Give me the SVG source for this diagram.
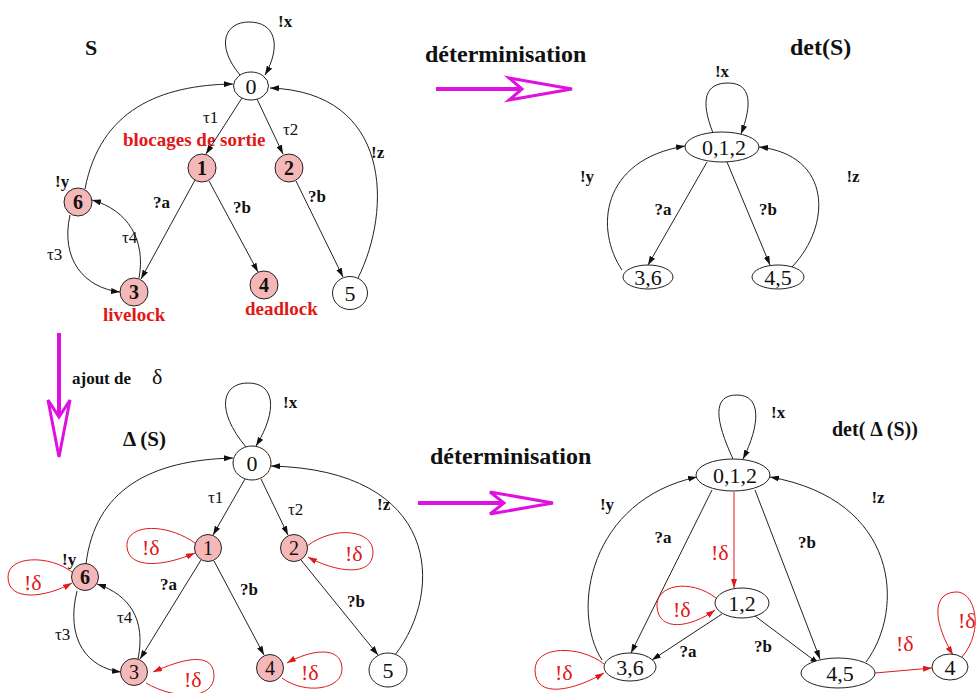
<svg xmlns="http://www.w3.org/2000/svg" width="976" height="693" viewBox="0 0 976 693">
<style>
text{font-family:"Liberation Serif","Times New Roman",serif}
.e{fill:none;stroke:#222;stroke-width:1}
.r{fill:none;stroke:#e01818;stroke-width:1}
.n{fill:#fff;stroke:#222;stroke-width:1}
.p{fill:#f5b8b8;stroke:#222;stroke-width:1}
.t{fill:#111}
.b{font-weight:bold}
.lb{font-weight:bold;font-size:17px;fill:#111}
.tau{font-size:17px;fill:#111}
.nl{font-size:22px;fill:#111;text-anchor:middle}
.pl{font-size:20px;fill:#111;text-anchor:middle}
.rd{font-size:22px;fill:#e01818}
.rb{font-weight:bold;font-size:19px;fill:#e01818}
.h{font-weight:bold;fill:#111}
.m{stroke:#e010e0;stroke-width:4;fill:none}
.mh{stroke:#e010e0;stroke-width:3;fill:#fff;stroke-linejoin:miter}
.c{text-anchor:middle}
</style>
<defs>
<marker id="a" markerUnits="userSpaceOnUse" markerWidth="9" markerHeight="6" refX="9" refY="3" orient="auto"><path d="M0,0 L9,3 L0,6 z" fill="#111"/></marker>
<marker id="ar" markerUnits="userSpaceOnUse" markerWidth="9" markerHeight="6" refX="9" refY="3" orient="auto"><path d="M0,0 L9,3 L0,6 z" fill="#e01818"/></marker>
</defs>
<rect width="976" height="693" fill="#fff"/>

<g id="titles">
<text class="h" x="85" y="55" font-size="22">S</text>
<text class="h" x="425" y="62" font-size="24">déterminisation</text>
<text class="h" x="790" y="55" font-size="24">det(S)</text>
<text class="h" x="72" y="384" font-size="17">ajout de</text>
<text class="t" x="152" y="384" font-size="22">δ</text>
<text class="h" x="123" y="446" font-size="21">Δ (S)</text>
<text class="h" x="430" y="464" font-size="24">déterminisation</text>
<text class="h" x="832" y="436" font-size="20">det( Δ (S))</text>
<text class="rb" x="123" y="146">blocages de sortie</text>
<text class="rb" x="103" y="321">livelock</text>
<text class="rb" x="245" y="315">deadlock</text>
</g>
<g id="transform-arrows">
<line class="m" x1="436" y1="89" x2="522" y2="89"/>
<polygon class="mh" points="509,78 572,89 509,100 522,89"/>
<line class="m" x1="59" y1="333" x2="59" y2="417"/>
<polygon class="mh" points="48,400 59,457 70,400 59,417"/>
<line class="m" x1="418" y1="503" x2="504" y2="503"/>
<polygon class="mh" points="490,492 553,503 490,514 504,503"/>
</g>

<g id="connectors">
<path class="e" marker-end="url(#a)" d="M240,75 C215,45 225,22 249,22 C275,22 282,45 265,75"/>
<path class="e" marker-end="url(#a)" d="M242,98 L206,154"/>
<path class="e" marker-end="url(#a)" d="M257,99 L283,154"/>
<path class="e" marker-end="url(#a)" d="M85,189 C100,110 160,85 233,84"/>
<path class="e" marker-end="url(#a)" d="M358,278 C392,210 392,92 270,88"/>
<path class="e" marker-end="url(#a)" d="M195,180 L141,279"/>
<path class="e" marker-end="url(#a)" d="M209,181 L258,272"/>
<path class="e" marker-end="url(#a)" d="M296,181 L343,277"/>
<path class="e" marker-end="url(#a)" d="M70,215 C60,260 85,288 120,292"/>
<path class="e" marker-end="url(#a)" d="M139,278 C146,240 128,210 92,200"/>
<path class="e" marker-end="url(#a)" d="M713,133 C700,100 705,83 728,83 C752,83 752,105 741,134"/>
<path class="e" marker-end="url(#a)" d="M707,162 L648,265"/>
<path class="e" marker-end="url(#a)" d="M727,162 L770,265"/>
<path class="e" marker-end="url(#a)" d="M622,270 C595,230 600,160 685,146"/>
<path class="e" marker-end="url(#a)" d="M792,267 C832,225 832,155 759,147"/>
<path class="e" marker-end="url(#a)" d="M246,447 C215,410 222,383 248,383 C275,383 278,410 256,446"/>
<path class="e" marker-end="url(#a)" d="M245,479 L213,535"/>
<path class="e" marker-end="url(#a)" d="M261,479 L288,535"/>
<path class="e" marker-end="url(#a)" d="M86,564 C95,490 150,460 233,458"/>
<path class="e" marker-end="url(#a)" d="M395,655 C445,590 440,470 271,466"/>
<path class="e" marker-end="url(#a)" d="M201,560 L140,659"/>
<path class="e" marker-end="url(#a)" d="M214,561 L264,655"/>
<path class="e" marker-end="url(#a)" d="M301,560 L378,655"/>
<path class="e" marker-end="url(#a)" d="M77,591 C65,640 88,668 121,672"/>
<path class="e" marker-end="url(#a)" d="M138,659 C146,620 130,595 97,584"/>
<path class="r" marker-end="url(#ar)" d="M195,543 C165,522 125,524 127,547 C129,570 165,566 195,553"/>
<path class="r" marker-end="url(#ar)" d="M307,546 C335,525 373,530 373,552 C373,578 335,572 308,557"/>
<path class="r" marker-end="url(#ar)" d="M72,572 C50,555 8,555 8,577 C8,602 45,598 72,583"/>
<path class="r" marker-end="url(#ar)" d="M146,683 C175,700 215,700 214,675 C213,650 180,660 153,672"/>
<path class="r" marker-end="url(#ar)" d="M282,678 C305,695 343,690 342,668 C341,645 310,650 287,663"/>
<path class="e" marker-end="url(#a)" d="M733,459 C715,420 712,395 737,395 C762,395 760,425 743,459"/>
<path class="r" marker-end="url(#ar)" d="M734,492 L734,588"/>
<path class="e" marker-end="url(#a)" d="M712,490 L631,653"/>
<path class="e" marker-end="url(#a)" d="M755,490 L820,659"/>
<path class="e" marker-end="url(#a)" d="M602,660 C570,610 590,500 697,477"/>
<path class="e" marker-end="url(#a)" d="M866,662 C905,610 900,500 770,477"/>
<path class="e" marker-end="url(#a)" d="M722,614 L652,660"/>
<path class="e" marker-end="url(#a)" d="M755,616 L819,664"/>
<path class="r" marker-end="url(#ar)" d="M875,673 L932,668"/>
<path class="r" marker-end="url(#ar)" d="M716,598 C690,578 655,585 657,607 C659,632 690,628 715,610"/>
<path class="r" marker-end="url(#ar)" d="M604,664 C580,645 535,645 535,670 C535,700 575,690 604,673"/>
<path class="r" marker-end="url(#ar)" d="M962,657 C985,630 975,590 955,592 C930,594 935,625 953,655"/>
</g>

<g id="edge-labels">
<text class="lb" x="278" y="27">!x</text>
<text class="tau" x="203" y="123">τ1</text>
<text class="tau" x="283" y="135">τ2</text>
<text class="lb" x="371" y="158">!z</text>
<text class="lb" x="55" y="187">!y</text>
<text class="lb" x="153" y="208">?a</text>
<text class="lb" x="233" y="213">?b</text>
<text class="lb" x="308" y="202">?b</text>
<text class="tau" x="122" y="243">τ4</text>
<text class="tau" x="47" y="260">τ3</text>
<text class="lb c" x="722" y="77">!x</text>
<text class="lb c" x="587" y="182">!y</text>
<text class="lb c" x="663" y="215">?a</text>
<text class="lb c" x="768" y="215">?b</text>
<text class="lb c" x="853" y="182">!z</text>
<text class="lb" x="283" y="408">!x</text>
<text class="tau" x="208" y="503">τ1</text>
<text class="tau" x="288" y="515">τ2</text>
<text class="lb" x="377" y="510">!z</text>
<text class="lb" x="62" y="565">!y</text>
<text class="lb" x="160" y="590">?a</text>
<text class="lb" x="240" y="595">?b</text>
<text class="lb" x="347" y="607">?b</text>
<text class="tau" x="117" y="623">τ4</text>
<text class="tau" x="55" y="640">τ3</text>
<text class="rd" x="142" y="555">!δ</text>
<text class="rd" x="345" y="561">!δ</text>
<text class="rd" x="24" y="590">!δ</text>
<text class="rd" x="184" y="687">!δ</text>
<text class="rd" x="301" y="680">!δ</text>
<text class="lb" x="771" y="418">!x</text>
<text class="lb c" x="607" y="510">!y</text>
<text class="lb c" x="663" y="543">?a</text>
<text class="rd" x="711" y="560">!δ</text>
<text class="lb c" x="807" y="548">?b</text>
<text class="lb c" x="878" y="503">!z</text>
<text class="lb c" x="688" y="657">?a</text>
<text class="lb c" x="763" y="652">?b</text>
<text class="rd" x="896" y="651">!δ</text>
<text class="rd" x="673" y="617">!δ</text>
<text class="rd" x="555" y="680">!δ</text>
<text class="rd" x="958" y="628">!δ</text>
</g>

<g id="s0"><ellipse class="n" cx="251" cy="86" rx="17.5" ry="14"/><text class="nl" x="251" y="94">0</text></g>
<g id="s1"><circle class="p" cx="202" cy="168" r="14"/><text class="pl b" x="202" y="175">1</text></g>
<g id="s2"><circle class="p" cx="289" cy="168" r="14"/><text class="pl b" x="289" y="175">2</text></g>
<g id="s3"><circle class="p" cx="134" cy="292" r="14"/><text class="pl b" x="134" y="299">3</text></g>
<g id="s4"><circle class="p" cx="264" cy="285" r="14"/><text class="pl b" x="264" y="292">4</text></g>
<g id="s5"><ellipse class="n" cx="350" cy="293" rx="17.5" ry="16.5"/><text class="nl" x="350" y="301">5</text></g>
<g id="s6"><circle class="p" cx="78" cy="202" r="14"/><text class="pl b" x="78" y="209">6</text></g>

<g id="d012"><ellipse class="n" cx="722" cy="147" rx="37" ry="15"/><text class="nl" x="724" y="155">0,1,2</text></g>
<g id="d36"><ellipse class="n" cx="648" cy="277" rx="25" ry="12"/><text class="nl" x="648" y="285">3,6</text></g>
<g id="d45"><ellipse class="n" cx="778" cy="277" rx="26" ry="12"/><text class="nl" x="778" y="285">4,5</text></g>

<g id="t0"><ellipse class="n" cx="252" cy="463" rx="19" ry="17"/><text class="nl" x="252" y="471">0</text></g>
<g id="t1"><circle class="p" cx="208" cy="548" r="13.5"/><text class="pl" x="208" y="555">1</text></g>
<g id="t2"><circle class="p" cx="294" cy="548" r="13.5"/><text class="pl" x="294" y="555">2</text></g>
<g id="t3"><circle class="p" cx="134" cy="672" r="13.5"/><text class="pl" x="134" y="679">3</text></g>
<g id="t4"><circle class="p" cx="270" cy="668" r="13.5"/><text class="pl" x="270" y="675">4</text></g>
<g id="t5"><ellipse class="n" cx="388" cy="670" rx="19" ry="17"/><text class="nl" x="388" y="678">5</text></g>
<g id="t6"><circle class="p" cx="85" cy="577" r="13.5"/><text class="pl b" x="85" y="584">6</text></g>

<g id="u012"><ellipse class="n" cx="733" cy="475" rx="37" ry="16"/><text class="nl" x="735" y="483">0,1,2</text></g>
<g id="u12"><ellipse class="n" cx="742" cy="603" rx="27" ry="15"/><text class="nl" x="742" y="611">1,2</text></g>
<g id="u36"><ellipse class="n" cx="630" cy="667" rx="26" ry="14"/><text class="nl" x="630" y="675">3,6</text></g>
<g id="u45"><ellipse class="n" cx="838" cy="673" rx="37" ry="15"/><text class="nl" x="840" y="681">4,5</text></g>
<g id="u4"><ellipse class="n" cx="950" cy="667" rx="18" ry="13"/><text class="nl" x="950" y="675">4</text></g>
</svg>
